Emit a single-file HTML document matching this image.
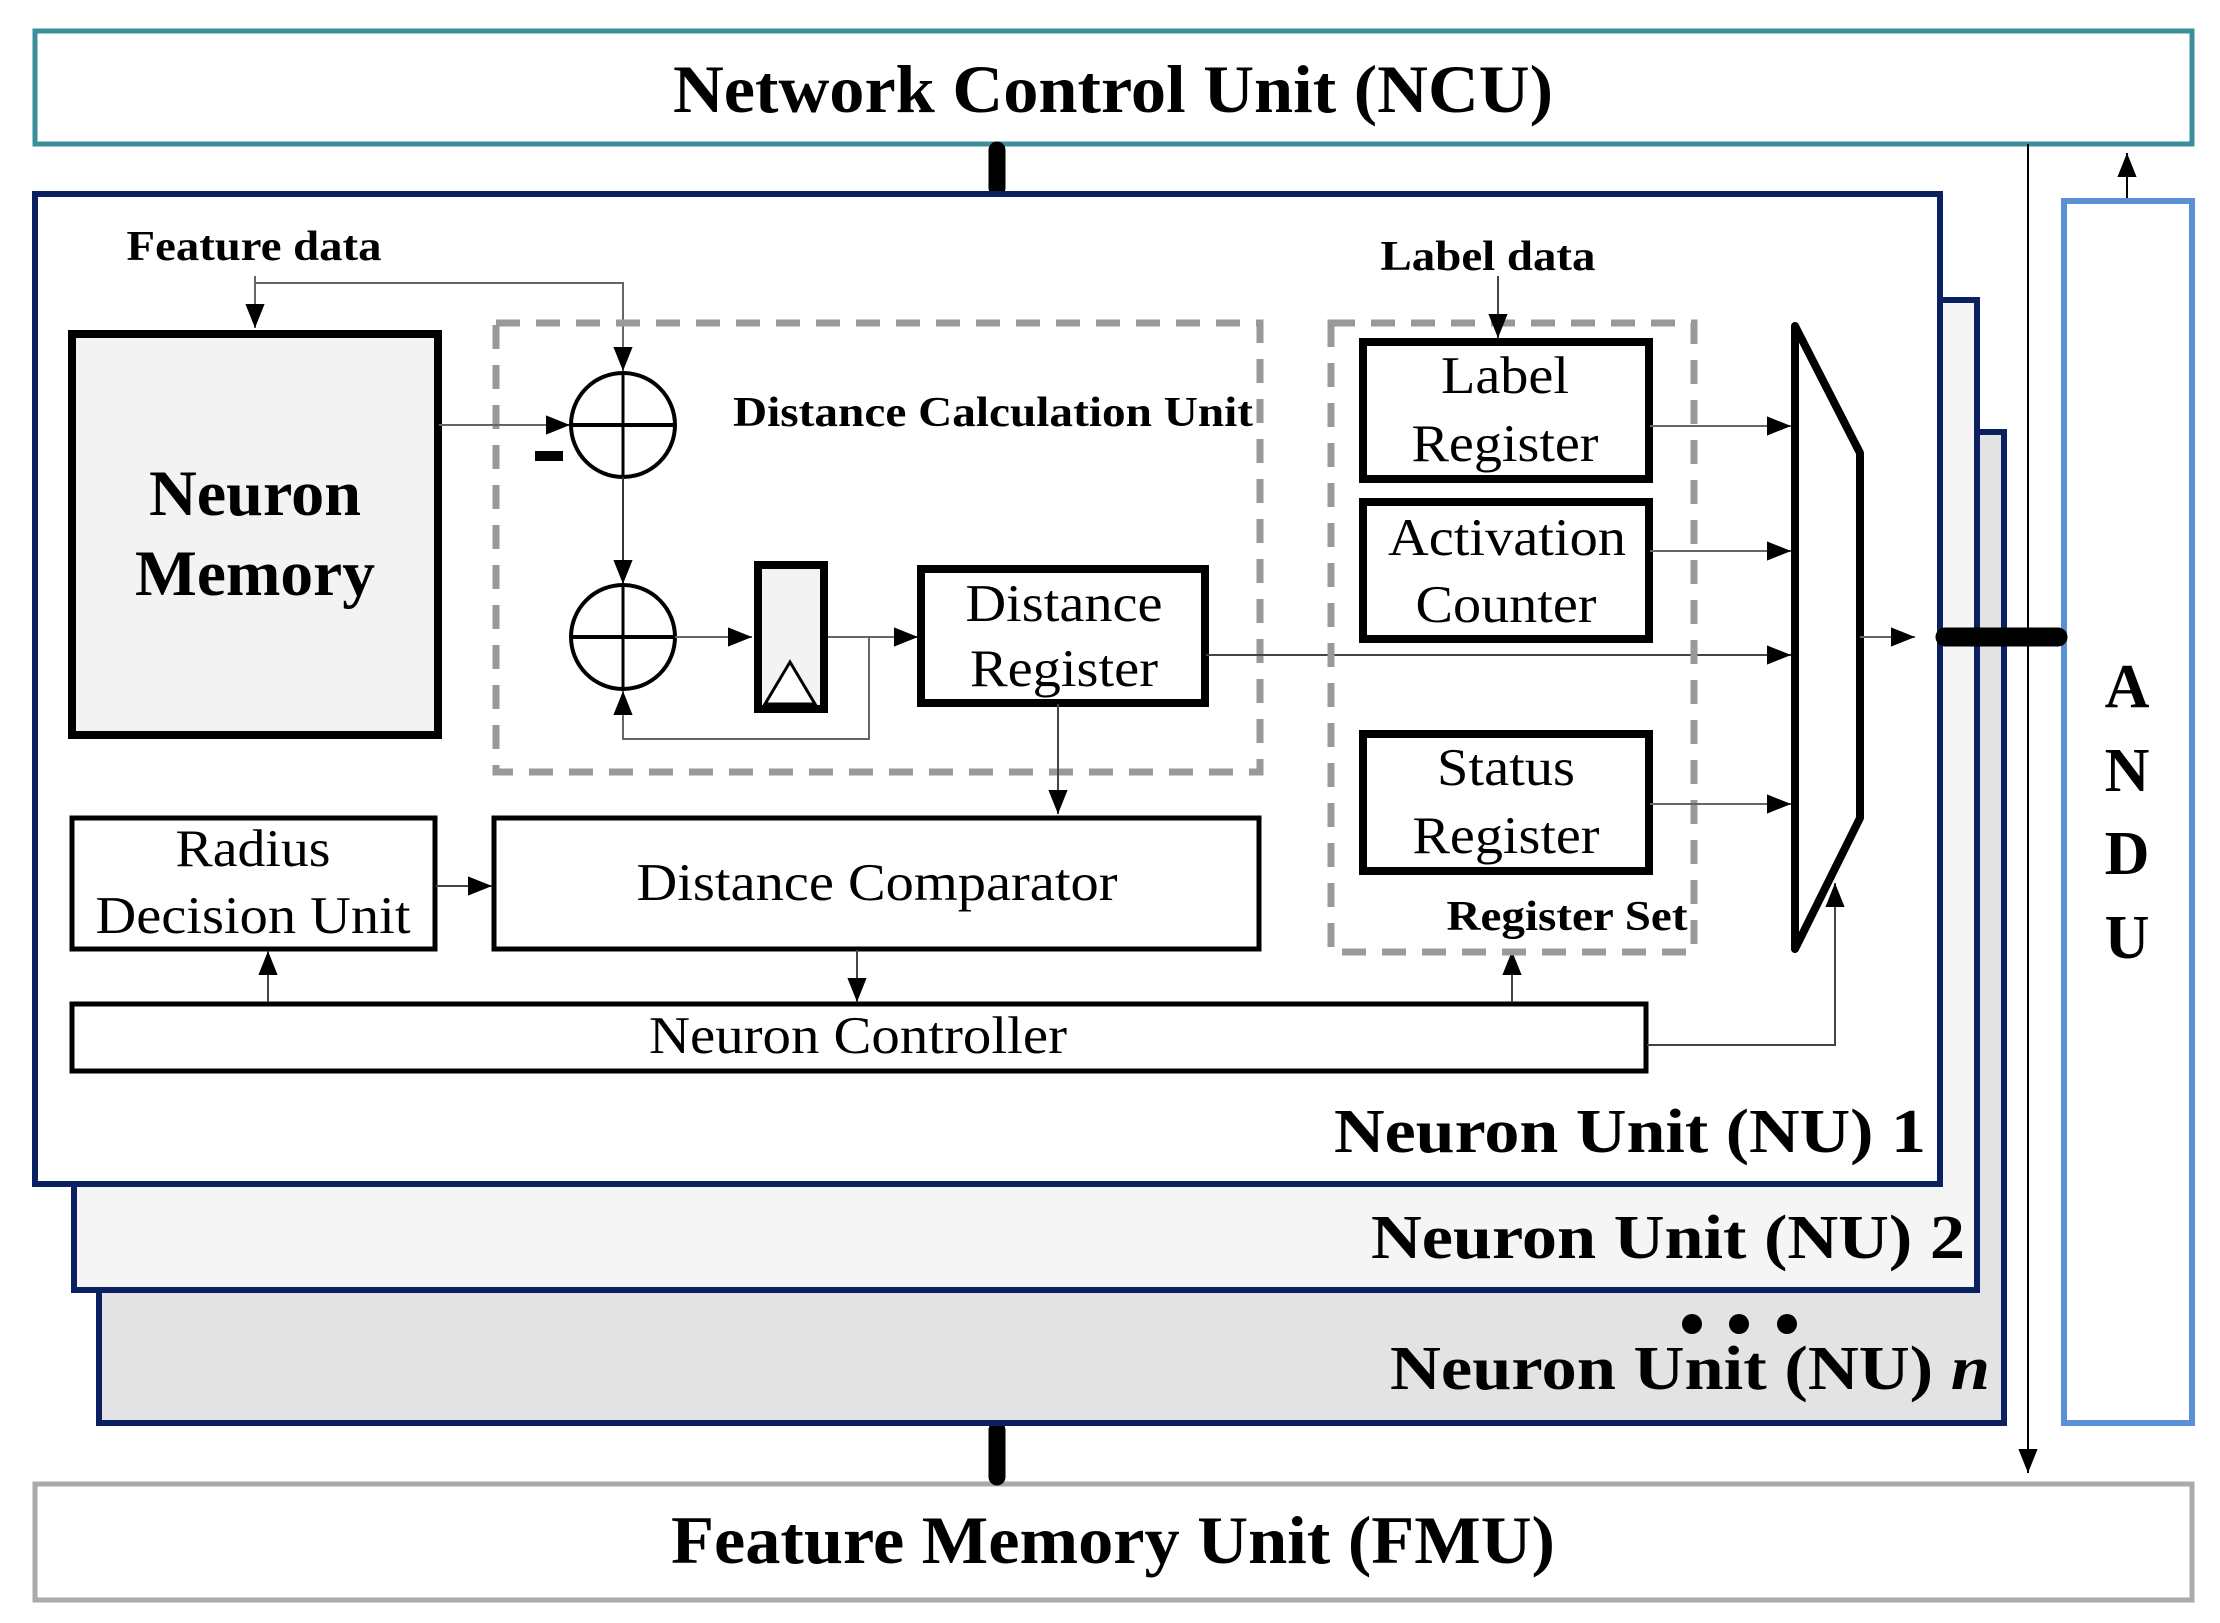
<!DOCTYPE html>
<html><head><meta charset="utf-8"><style>html,body{margin:0;padding:0;background:#fff}svg{display:block}</style></head>
<body>
<svg width="2220" height="1623" viewBox="0 0 2220 1623" xmlns="http://www.w3.org/2000/svg" font-family="Liberation Serif, serif">
<defs>
<marker id="a" viewBox="0 0 10 10" refX="10" refY="5" markerWidth="7" markerHeight="7" orient="auto" markerUnits="userSpaceOnUse">
<path d="M0,0 L10,5 L0,10 z" fill="#000"/></marker>
<marker id="b" viewBox="0 0 10 10" refX="10" refY="5" markerWidth="24" markerHeight="24" orient="auto" markerUnits="userSpaceOnUse">
<path d="M0,1 L10,5 L0,9 z" fill="#000"/></marker>
</defs>
<!-- NCU -->
<rect x="35" y="31" width="2157" height="113" fill="#fff" stroke="#3a8f9a" stroke-width="5"/>
<text x="1113" y="112" font-size="68" font-weight="bold" text-anchor="middle" textLength="880" lengthAdjust="spacingAndGlyphs">Network Control Unit (NCU)</text>
<!-- FMU -->
<rect x="35" y="1484" width="2157" height="116" fill="#fff" stroke="#aaaaaa" stroke-width="5"/>
<text x="1113" y="1563" font-size="68" font-weight="bold" text-anchor="middle" textLength="884" lengthAdjust="spacingAndGlyphs">Feature Memory Unit (FMU)</text>
<!-- connectors -->
<line x1="997" y1="150" x2="997" y2="188" stroke="#000" stroke-width="17" stroke-linecap="round"/>
<line x1="997" y1="1430" x2="997" y2="1477" stroke="#000" stroke-width="17" stroke-linecap="round"/>
<!-- NUn, NU2 -->
<rect x="99" y="432" width="1905" height="991" fill="#e3e3e3" stroke="#0a2060" stroke-width="6"/>
<rect x="74" y="300" width="1903" height="990" fill="#f5f5f5" stroke="#0a2060" stroke-width="6"/>
<rect x="35" y="194" width="1905" height="990" fill="#fff" stroke="#0a2060" stroke-width="6"/>
<text x="1965" y="1258" font-size="62" font-weight="bold" text-anchor="end" textLength="594" lengthAdjust="spacingAndGlyphs">Neuron Unit (NU) 2</text>
<text x="1990" y="1389" font-size="62" font-weight="bold" text-anchor="end" textLength="600" lengthAdjust="spacingAndGlyphs">Neuron Unit (NU) <tspan font-style="italic">n</tspan></text>
<circle cx="1692" cy="1324" r="10"/><circle cx="1739" cy="1324" r="10"/><circle cx="1787" cy="1324" r="10"/>
<text x="1926" y="1152" font-size="62" font-weight="bold" text-anchor="end" textLength="592" lengthAdjust="spacingAndGlyphs">Neuron Unit (NU) 1</text>
<!-- ANDU -->
<rect x="2064" y="201" width="128" height="1222" fill="#fff" stroke="#5b8fd6" stroke-width="6"/>
<g font-size="62" font-weight="bold" text-anchor="middle">
<text x="2127" y="707">A</text><text x="2127" y="791">N</text><text x="2127" y="874">D</text><text x="2127" y="958">U</text></g>
<line x1="2127" y1="198" x2="2127" y2="153" stroke="#000" stroke-width="2" marker-end="url(#b)"/>
<line x1="2028" y1="144" x2="2028" y2="1473" stroke="#000" stroke-width="2" marker-end="url(#b)"/>
<line x1="1945" y1="637" x2="2058" y2="637" stroke="#000" stroke-width="19" stroke-linecap="round"/>
<!-- Feature data -->
<text x="254" y="260" font-size="42" font-weight="bold" text-anchor="middle" textLength="255" lengthAdjust="spacingAndGlyphs">Feature data</text>
<polyline points="255,276 255,283 623,283 623,371" fill="none" stroke="#666" stroke-width="2" marker-end="url(#b)"/>
<line x1="255" y1="283" x2="255" y2="328" stroke="#666" stroke-width="2" marker-end="url(#b)"/>
<!-- Neuron memory -->
<rect x="72" y="334" width="366" height="401" fill="#f3f3f3" stroke="#000" stroke-width="8"/>
<g font-size="65" font-weight="bold" text-anchor="middle">
<text x="255" y="515" textLength="212" lengthAdjust="spacingAndGlyphs">Neuron</text>
<text x="255" y="595" textLength="240" lengthAdjust="spacingAndGlyphs">Memory</text></g>
<!-- DCU dashed -->
<rect x="496" y="323" width="764" height="449" fill="none" stroke="#999" stroke-width="7" stroke-dasharray="24 16"/>
<text x="993" y="426" font-size="42" font-weight="bold" text-anchor="middle" textLength="520" lengthAdjust="spacingAndGlyphs">Distance Calculation Unit</text>
<line x1="439" y1="425" x2="570" y2="425" stroke="#666" stroke-width="2" marker-end="url(#b)"/>
<rect x="535" y="451" width="28" height="10" fill="#000"/>
<circle cx="623" cy="425" r="52" fill="#fff" stroke="#000" stroke-width="4"/>
<line x1="571" y1="425" x2="675" y2="425" stroke="#000" stroke-width="4"/><line x1="623" y1="373" x2="623" y2="477" stroke="#000" stroke-width="3"/>
<line x1="623" y1="477" x2="623" y2="584" stroke="#333" stroke-width="2" marker-end="url(#b)"/>
<circle cx="623" cy="637" r="52" fill="#fff" stroke="#000" stroke-width="4"/>
<line x1="571" y1="637" x2="675" y2="637" stroke="#000" stroke-width="4"/><line x1="623" y1="585" x2="623" y2="689" stroke="#000" stroke-width="3"/>
<line x1="675" y1="637" x2="752" y2="637" stroke="#666" stroke-width="2" marker-end="url(#b)"/>
<rect x="758" y="565" width="66" height="144" fill="#f3f3f3" stroke="#000" stroke-width="8"/>
<polygon points="765,704 790,662 815,704" fill="#fff" stroke="#000" stroke-width="3"/>
<line x1="828" y1="637" x2="918" y2="637" stroke="#666" stroke-width="2" marker-end="url(#b)"/>
<polyline points="869,637 869,739 623,739 623,691" fill="none" stroke="#666" stroke-width="2" marker-end="url(#b)"/>
<rect x="921" y="569" width="284" height="134" fill="#fff" stroke="#000" stroke-width="8"/>
<g font-size="53" text-anchor="middle">
<text x="1064" y="621" textLength="197" lengthAdjust="spacingAndGlyphs">Distance</text>
<text x="1064" y="686" textLength="188" lengthAdjust="spacingAndGlyphs">Register</text></g>
<line x1="1058" y1="704" x2="1058" y2="814" stroke="#444" stroke-width="2" marker-end="url(#b)"/>
<line x1="1206" y1="655" x2="1791" y2="655" stroke="#444" stroke-width="2" marker-end="url(#b)"/>
<!-- Comparator, radius, controller -->
<rect x="494" y="818" width="765" height="131" fill="#fff" stroke="#000" stroke-width="5"/>
<text x="877" y="900" font-size="53" text-anchor="middle" textLength="481" lengthAdjust="spacingAndGlyphs">Distance Comparator</text>
<rect x="72" y="818" width="363" height="131" fill="#fff" stroke="#000" stroke-width="5"/>
<g font-size="53" text-anchor="middle">
<text x="253" y="866" textLength="155" lengthAdjust="spacingAndGlyphs">Radius</text>
<text x="253" y="933" textLength="315" lengthAdjust="spacingAndGlyphs">Decision Unit</text></g>
<line x1="436" y1="886" x2="492" y2="886" stroke="#444" stroke-width="2" marker-end="url(#b)"/>
<rect x="72" y="1004" width="1574" height="67" fill="#fff" stroke="#000" stroke-width="5"/>
<text x="858" y="1053" font-size="53" text-anchor="middle" textLength="418" lengthAdjust="spacingAndGlyphs">Neuron Controller</text>
<line x1="857" y1="950" x2="857" y2="1002" stroke="#444" stroke-width="2" marker-end="url(#b)"/>
<line x1="268" y1="1002" x2="268" y2="951" stroke="#444" stroke-width="2" marker-end="url(#b)"/>
<line x1="1512" y1="1002" x2="1512" y2="951" stroke="#444" stroke-width="2" marker-end="url(#b)"/>
<polyline points="1647,1045 1835,1045 1835,883" fill="none" stroke="#444" stroke-width="2" marker-end="url(#b)"/>
<!-- Register set -->
<rect x="1331" y="323" width="363" height="629" fill="none" stroke="#999" stroke-width="7" stroke-dasharray="24 16"/>
<text x="1567" y="930" font-size="42" font-weight="bold" text-anchor="middle" textLength="241" lengthAdjust="spacingAndGlyphs">Register Set</text>
<text x="1488" y="270" font-size="42" font-weight="bold" text-anchor="middle" textLength="215" lengthAdjust="spacingAndGlyphs">Label data</text>
<line x1="1498" y1="276" x2="1498" y2="338" stroke="#444" stroke-width="2" marker-end="url(#b)"/>
<g fill="#fff" stroke="#000" stroke-width="8">
<rect x="1363" y="342" width="286" height="137"/>
<rect x="1363" y="502" width="286" height="137"/>
<rect x="1363" y="734" width="286" height="137"/></g>
<g font-size="53" text-anchor="middle">
<text x="1505" y="393" textLength="128" lengthAdjust="spacingAndGlyphs">Label</text>
<text x="1505" y="461" textLength="187" lengthAdjust="spacingAndGlyphs">Register</text>
<text x="1507" y="555" textLength="238" lengthAdjust="spacingAndGlyphs">Activation</text>
<text x="1506" y="622" textLength="181" lengthAdjust="spacingAndGlyphs">Counter</text>
<text x="1506" y="785" textLength="138" lengthAdjust="spacingAndGlyphs">Status</text>
<text x="1506" y="853" textLength="187" lengthAdjust="spacingAndGlyphs">Register</text></g>
<line x1="1650" y1="426" x2="1791" y2="426" stroke="#666" stroke-width="2" marker-end="url(#b)"/>
<line x1="1650" y1="551" x2="1791" y2="551" stroke="#666" stroke-width="2" marker-end="url(#b)"/>
<line x1="1650" y1="804" x2="1791" y2="804" stroke="#666" stroke-width="2" marker-end="url(#b)"/>
<!-- Mux -->
<polygon points="1795,326 1860,453 1860,818 1795,949" fill="#fff" stroke="#000" stroke-width="8" stroke-linejoin="round"/>
<line x1="1860" y1="637" x2="1915" y2="637" stroke="#666" stroke-width="2" marker-end="url(#b)"/>
</svg>
</body></html>
